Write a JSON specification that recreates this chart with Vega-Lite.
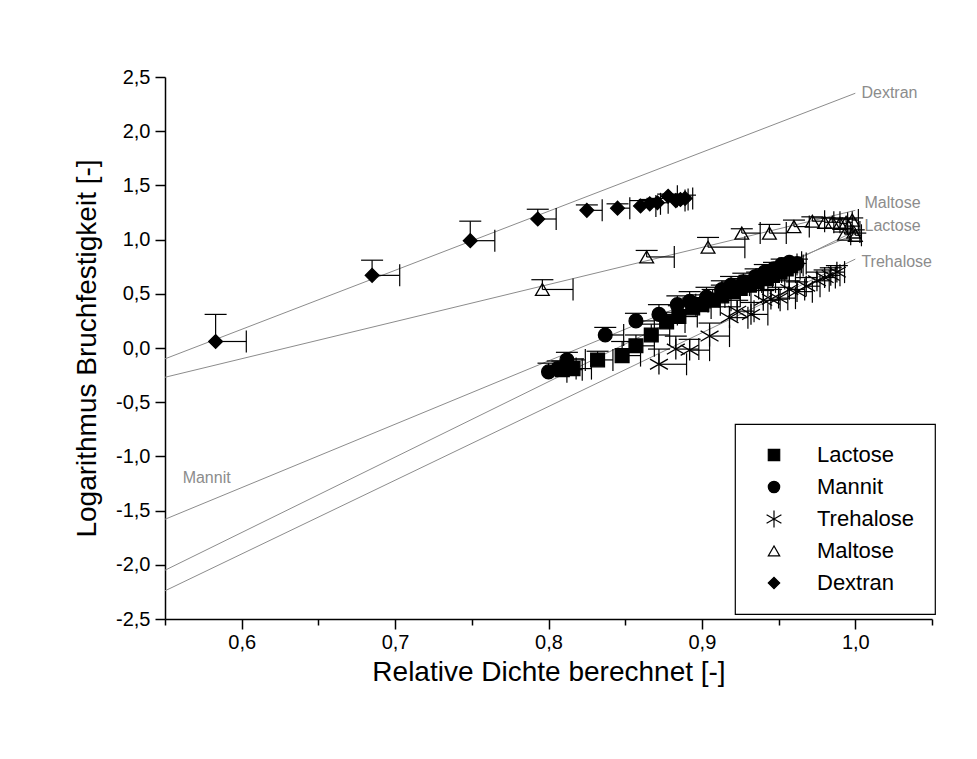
{
  "$schema": "https://vega.github.io/schema/vega-lite/v6.json",
  "width": 767,
  "height": 542,
  "autosize": {"type": "none"},
  "padding": {"left": 165, "top": 77, "right": 45, "bottom": 140},
  "background": "white",
  "config": {
    "view": {"stroke": null},
    "font": "Liberation Sans",
    "axis": {
      "labelFont": "Liberation Sans", "titleFont": "Liberation Sans",
      "labelColor": "black", "titleColor": "black", "titleFontWeight": "normal",
      "domainColor": "black", "domainWidth": 1.5, "tickColor": "black", "tickWidth": 1.5,
      "grid": false, "labelFontSize": 20, "titleFontSize": 28
    },
    "legend": {"strokeWidth": 1.2}
  },
  "datasets": {
    "pts": [
      {"s":"Dextran","x":0.583,"y":0.06,"xe":0.603,"ye":0.31},
      {"s":"Dextran","x":0.685,"y":0.67,"xe":0.703,"ye":0.81},
      {"s":"Dextran","x":0.749,"y":0.99,"xe":0.765,"ye":1.17},
      {"s":"Dextran","x":0.793,"y":1.19,"xe":0.805,"ye":1.28},
      {"s":"Dextran","x":0.825,"y":1.27,"xe":0.835,"ye":1.32},
      {"s":"Dextran","x":0.845,"y":1.29,"xe":0.853,"ye":1.33},
      {"s":"Dextran","x":0.860,"y":1.31,"xe":0.870,"ye":1.36},
      {"s":"Dextran","x":0.866,"y":1.33,"xe":0.873,"ye":1.37},
      {"s":"Dextran","x":0.871,"y":1.34,"xe":0.878,"ye":1.38},
      {"s":"Dextran","x":0.878,"y":1.40,"xe":0.884,"ye":1.42},
      {"s":"Dextran","x":0.883,"y":1.36,"xe":0.889,"ye":1.39},
      {"s":"Dextran","x":0.886,"y":1.37,"xe":0.891,"ye":1.40},
      {"s":"Dextran","x":0.889,"y":1.38,"xe":0.894,"ye":1.41},
      {"s":"Maltose","x":0.796,"y":0.54,"xe":0.816,"ye":0.63},
      {"s":"Maltose","x":0.864,"y":0.84,"xe":0.882,"ye":0.90},
      {"s":"Maltose","x":0.904,"y":0.93,"xe":0.928,"ye":1.02},
      {"s":"Maltose","x":0.926,"y":1.06,"xe":0.938,"ye":1.10},
      {"s":"Maltose","x":0.944,"y":1.06,"xe":0.955,"ye":1.14},
      {"s":"Maltose","x":0.960,"y":1.12,"xe":0.970,"ye":1.18},
      {"s":"Maltose","x":0.972,"y":1.17,"xe":0.980,"ye":1.21},
      {"s":"Maltose","x":0.980,"y":1.16,"xe":0.986,"ye":1.20},
      {"s":"Maltose","x":0.985,"y":1.16,"xe":0.990,"ye":1.20},
      {"s":"Maltose","x":0.990,"y":1.15,"xe":0.995,"ye":1.19},
      {"s":"Maltose","x":0.994,"y":1.16,"xe":0.998,"ye":1.19},
      {"s":"Maltose","x":0.998,"y":1.18,"xe":1.002,"ye":1.20},
      {"s":"Maltose","x":0.993,"y":1.05,"xe":0.997,"ye":1.07},
      {"s":"Maltose","x":0.999,"y":1.07,"xe":1.003,"ye":1.09},
      {"s":"Maltose","x":1.000,"y":1.04,"xe":1.004,"ye":1.06},
      {"s":"Lactose","x":0.809,"y":-0.20,"xe":0.822,"ye":-0.12},
      {"s":"Lactose","x":0.816,"y":-0.19,"xe":0.828,"ye":-0.10},
      {"s":"Lactose","x":0.832,"y":-0.11,"xe":0.842,"ye":-0.03},
      {"s":"Lactose","x":0.848,"y":-0.07,"xe":0.860,"ye":0.06},
      {"s":"Lactose","x":0.857,"y":0.02,"xe":0.869,"ye":0.12},
      {"s":"Lactose","x":0.867,"y":0.12,"xe":0.879,"ye":0.22},
      {"s":"Lactose","x":0.877,"y":0.24,"xe":0.889,"ye":0.33},
      {"s":"Lactose","x":0.885,"y":0.29,"xe":0.897,"ye":0.39},
      {"s":"Lactose","x":0.894,"y":0.37,"xe":0.906,"ye":0.46},
      {"s":"Lactose","x":0.900,"y":0.40,"xe":0.912,"ye":0.49},
      {"s":"Lactose","x":0.907,"y":0.44,"xe":0.919,"ye":0.54},
      {"s":"Lactose","x":0.913,"y":0.48,"xe":0.925,"ye":0.58},
      {"s":"Lactose","x":0.920,"y":0.52,"xe":0.932,"ye":0.61},
      {"s":"Lactose","x":0.925,"y":0.55,"xe":0.937,"ye":0.64},
      {"s":"Lactose","x":0.931,"y":0.58,"xe":0.943,"ye":0.67},
      {"s":"Lactose","x":0.936,"y":0.61,"xe":0.948,"ye":0.70},
      {"s":"Lactose","x":0.942,"y":0.64,"xe":0.954,"ye":0.73},
      {"s":"Lactose","x":0.946,"y":0.67,"xe":0.957,"ye":0.75},
      {"s":"Lactose","x":0.951,"y":0.70,"xe":0.961,"ye":0.78},
      {"s":"Lactose","x":0.955,"y":0.73,"xe":0.964,"ye":0.80},
      {"s":"Lactose","x":0.958,"y":0.76,"xe":0.966,"ye":0.82},
      {"s":"Mannit","x":0.800,"y":-0.22,"xe":0.812,"ye":-0.14},
      {"s":"Mannit","x":0.806,"y":-0.19,"xe":0.818,"ye":-0.12},
      {"s":"Mannit","x":0.812,"y":-0.11,"xe":0.824,"ye":-0.04},
      {"s":"Mannit","x":0.837,"y":0.12,"xe":0.849,"ye":0.19},
      {"s":"Mannit","x":0.857,"y":0.25,"xe":0.869,"ye":0.32},
      {"s":"Mannit","x":0.872,"y":0.31,"xe":0.884,"ye":0.40},
      {"s":"Mannit","x":0.884,"y":0.40,"xe":0.896,"ye":0.48},
      {"s":"Mannit","x":0.892,"y":0.43,"xe":0.904,"ye":0.52},
      {"s":"Mannit","x":0.903,"y":0.47,"xe":0.915,"ye":0.56},
      {"s":"Mannit","x":0.913,"y":0.54,"xe":0.925,"ye":0.62},
      {"s":"Mannit","x":0.919,"y":0.58,"xe":0.931,"ye":0.66},
      {"s":"Mannit","x":0.927,"y":0.61,"xe":0.939,"ye":0.69},
      {"s":"Mannit","x":0.935,"y":0.66,"xe":0.946,"ye":0.73},
      {"s":"Mannit","x":0.941,"y":0.70,"xe":0.952,"ye":0.77},
      {"s":"Mannit","x":0.947,"y":0.73,"xe":0.957,"ye":0.79},
      {"s":"Mannit","x":0.952,"y":0.77,"xe":0.962,"ye":0.82},
      {"s":"Mannit","x":0.957,"y":0.79,"xe":0.965,"ye":0.83},
      {"s":"Mannit","x":0.962,"y":0.78,"xe":0.968,"ye":0.82},
      {"s":"Trehalose","x":0.872,"y":-0.15,"xe":0.890,"ye":-0.01},
      {"s":"Trehalose","x":0.883,"y":-0.01,"xe":0.898,"ye":0.11},
      {"s":"Trehalose","x":0.892,"y":-0.02,"xe":0.905,"ye":0.08},
      {"s":"Trehalose","x":0.905,"y":0.11,"xe":0.918,"ye":0.23},
      {"s":"Trehalose","x":0.918,"y":0.28,"xe":0.930,"ye":0.38},
      {"s":"Trehalose","x":0.923,"y":0.34,"xe":0.934,"ye":0.44},
      {"s":"Trehalose","x":0.932,"y":0.31,"xe":0.943,"ye":0.42},
      {"s":"Trehalose","x":0.940,"y":0.44,"xe":0.951,"ye":0.53},
      {"s":"Trehalose","x":0.945,"y":0.45,"xe":0.956,"ye":0.54},
      {"s":"Trehalose","x":0.950,"y":0.46,"xe":0.961,"ye":0.56},
      {"s":"Trehalose","x":0.957,"y":0.54,"xe":0.967,"ye":0.62},
      {"s":"Trehalose","x":0.962,"y":0.52,"xe":0.972,"ye":0.61},
      {"s":"Trehalose","x":0.968,"y":0.57,"xe":0.977,"ye":0.65},
      {"s":"Trehalose","x":0.975,"y":0.62,"xe":0.983,"ye":0.70},
      {"s":"Trehalose","x":0.980,"y":0.65,"xe":0.987,"ye":0.72},
      {"s":"Trehalose","x":0.984,"y":0.67,"xe":0.990,"ye":0.74},
      {"s":"Trehalose","x":0.988,"y":0.70,"xe":0.993,"ye":0.76}
    ],
    "fits": [
      {"f":"Dextran","x":0.55,"y":-0.10},{"f":"Dextran","x":1.0,"y":2.35},
      {"f":"Maltose","x":0.55,"y":-0.27},{"f":"Maltose","x":1.0,"y":1.27},
      {"f":"Mannit","x":0.55,"y":-1.58},{"f":"Mannit","x":1.0,"y":1.05},
      {"f":"Lactose","x":0.55,"y":-2.05},{"f":"Lactose","x":1.0,"y":1.08},
      {"f":"Trehalose","x":0.55,"y":-2.24},{"f":"Trehalose","x":1.0,"y":0.82}
    ],
    "labs": [
      {"t":"Dextran","x":1.004,"y":2.35},
      {"t":"Maltose","x":1.006,"y":1.34},
      {"t":"Lactose","x":1.006,"y":1.13},
      {"t":"Trehalose","x":1.004,"y":0.79},
      {"t":"Mannit","x":0.5615,"y":-1.20}
    ]
  },
  "layer": [
    {
      "data": {"name": "fits"},
      "mark": {"type": "line", "color": "#8c8c8c", "strokeWidth": 1},
      "encoding": {
        "x": {
          "field": "x", "type": "quantitative",
          "scale": {"domain": [0.55, 1.05], "nice": false, "zero": false},
          "axis": {
            "title": "Relative Dichte berechnet [-]",
            "values": [0.55, 0.6, 0.65, 0.7, 0.75, 0.8, 0.85, 0.9, 0.95, 1.0, 1.05],
            "labelExpr": "abs(datum.value*10 - round(datum.value*10)) < 0.001 ? replace(format(datum.value, '.1f'), '.', ',') : ''",
            "tickSize": {"condition": {"test": "abs(datum.value*10 - round(datum.value*10)) < 0.001", "value": 10}, "value": 6},
            "labelPadding": 3, "titlePadding": 6, "labelFlush": false, "labelOverlap": false
          }
        },
        "y": {
          "field": "y", "type": "quantitative",
          "scale": {"domain": [-2.5, 2.5], "nice": false, "zero": false},
          "axis": {
            "title": "Logarithmus Bruchfestigkeit [-]",
            "values": [-2.5, -2.25, -2, -1.75, -1.5, -1.25, -1, -0.75, -0.5, -0.25, 0, 0.25, 0.5, 0.75, 1, 1.25, 1.5, 1.75, 2, 2.25, 2.5],
            "labelExpr": "abs(datum.value*2 - round(datum.value*2)) < 0.001 ? replace(replace(format(datum.value, '.1f'), '.', ','), '\u2212', '-') : ''",
            "tickSize": {"condition": {"test": "abs(datum.value*2 - round(datum.value*2)) < 0.001", "value": 10}, "value": 6},
            "labelPadding": 5, "titlePadding": 14, "labelFlush": false, "labelOverlap": false
          }
        },
        "detail": {"field": "f", "type": "nominal"}
      }
    },
    {
      "data": {"name": "pts"},
      "mark": {"type": "rule", "color": "black", "strokeWidth": 1.2},
      "encoding": {
        "x": {"field": "x", "type": "quantitative"},
        "y": {"field": "y", "type": "quantitative"},
        "y2": {"field": "ye"}
      }
    },
    {
      "data": {"name": "pts"},
      "mark": {"type": "tick", "orient": "horizontal", "color": "black", "size": 22, "thickness": 1.2, "opacity": 1},
      "encoding": {
        "x": {"field": "x", "type": "quantitative"},
        "y": {"field": "ye", "type": "quantitative"}
      }
    },
    {
      "data": {"name": "pts"},
      "mark": {"type": "rule", "color": "black", "strokeWidth": 1.2},
      "encoding": {
        "x": {"field": "x", "type": "quantitative"},
        "x2": {"field": "xe"},
        "y": {"field": "y", "type": "quantitative"}
      }
    },
    {
      "data": {"name": "pts"},
      "mark": {"type": "tick", "orient": "vertical", "color": "black", "size": 22, "thickness": 1.2, "opacity": 1},
      "encoding": {
        "x": {"field": "xe", "type": "quantitative"},
        "y": {"field": "y", "type": "quantitative"}
      }
    },
    {
      "data": {"name": "pts"},
      "mark": {"type": "point", "filled": true, "stroke": "black", "strokeWidth": 1.3, "size": 190, "opacity": 1, "fillOpacity": 1, "strokeOpacity": 1},
      "encoding": {
        "x": {"field": "x", "type": "quantitative"},
        "y": {"field": "y", "type": "quantitative"},
        "shape": {
          "field": "s", "type": "nominal",
          "scale": {
            "domain": ["Lactose", "Mannit", "Trehalose", "Maltose", "Dextran"],
            "range": ["square", "circle", "M0,-1.5L0,1.5M-1.3,-0.75L1.3,0.75M-1.3,0.75L1.3,-0.75", "triangle-up", "diamond"]
          },
          "legend": {
            "title": null, "orient": "none", "legendX": 570, "legendY": 347,
            "strokeColor": "black", "fillColor": "white", "padding": 20,
            "labelFontSize": 22, "labelFont": "Liberation Sans", "labelColor": "black",
            "symbolSize": 130, "symbolStrokeColor": "black", "symbolStrokeWidth": 1.2,
            "rowPadding": 10, "labelOffset": 32, "symbolOffset": 8
          }
        },
        "color": {
          "field": "s", "type": "nominal",
          "scale": {
            "domain": ["Lactose", "Mannit", "Trehalose", "Maltose", "Dextran"],
            "range": ["black", "black", "black", "transparent", "black"]
          },
          "legend": {
            "title": null, "orient": "none", "legendX": 570, "legendY": 347,
            "strokeColor": "black", "fillColor": "white", "padding": 20,
            "labelFontSize": 22, "labelFont": "Liberation Sans", "labelColor": "black",
            "symbolSize": 130, "symbolStrokeColor": "black", "symbolStrokeWidth": 1.2,
            "rowPadding": 10, "labelOffset": 32, "symbolOffset": 8
          }
        }
      }
    },
    {
      "data": {"name": "labs"},
      "mark": {"type": "text", "align": "left", "baseline": "middle", "fontSize": 16, "color": "#8c8c8c", "font": "Liberation Sans"},
      "encoding": {
        "x": {"field": "x", "type": "quantitative"},
        "y": {"field": "y", "type": "quantitative"},
        "text": {"field": "t", "type": "nominal"}
      }
    }
  ]
}
